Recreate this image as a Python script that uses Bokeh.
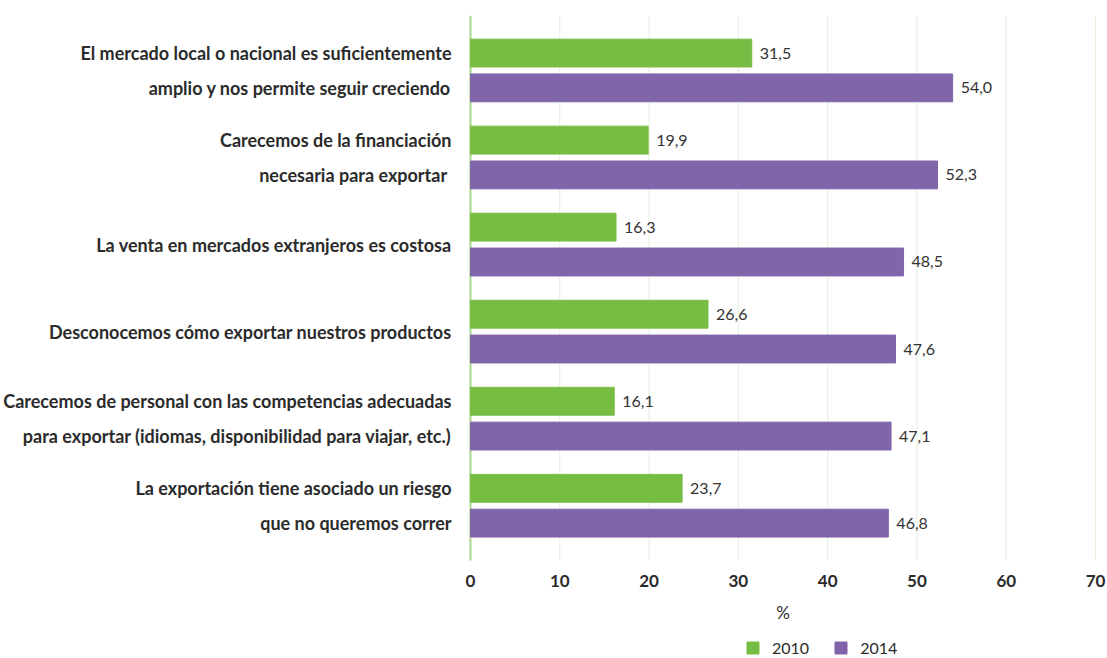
from bokeh.plotting import figure
from bokeh.models import Range1d, FixedTicker, Legend, LegendItem, ColumnDataSource
from bokeh.core.properties import value
from bokeh.embed import file_html
from bokeh.resources import INLINE

categories = [
    "El mercado local o nacional es suficientemente\namplio y nos permite seguir creciendo",
    "Carecemos de la financiación\nnecesaria para exportar ",
    "La venta en mercados extranjeros es costosa",
    "Desconocemos cómo exportar nuestros productos",
    "Carecemos de personal con las competencias adecuadas\npara exportar (idiomas, disponibilidad para viajar, etc.)",
    "La exportación tiene asociado un riesgo\nque no queremos correr",
]
values_2010 = [31.5, 19.9, 16.3, 26.6, 16.1, 23.7]
values_2014 = [54.0, 52.3, 48.5, 47.6, 47.1, 46.8]
series_names = ["2010", "2014"]
x_ticks = [0, 10, 20, 30, 40, 50, 60, 70]
x_title = "%"

GREEN = "#77bd43"
PURPLE = "#8165ab"
FONT = "Lato"
DARK = "#2b2b2b"

# y scale: each category occupies 5 units; 17.42 px per unit
PXU = 17.42
GRID_TOP = -3.157
GRID_BOTTOM = 28.15
Y_BOTTOM = GRID_BOTTOM + 98 / PXU
PXX = 8.96  # px per x unit
X_START = -12 / PXX
X_END = 70 + 12 / PXX

p = figure(width=1107, height=658, x_range=Range1d(X_START, X_END), y_range=Range1d(Y_BOTTOM, GRID_TOP),
           output_backend="svg", toolbar_location=None,
           min_border_left=456, min_border_right=0, min_border_top=15, min_border_bottom=0)
p.outline_line_color = None
p.ygrid.visible = False
p.xgrid.visible = False
p.xaxis.visible = False

# vertical grid lines
p.segment(x0=x_ticks[1:], x1=x_ticks[1:], y0=[GRID_TOP] * 7, y1=[GRID_BOTTOM] * 7,
          line_color="#e4efda", line_width=1)
p.segment(x0=[0], x1=[0], y0=[GRID_TOP], y1=[GRID_BOTTOM], line_color="#a6d68a", line_width=2)

centers = [5 * i for i in range(len(categories))]
src = ColumnDataSource(dict(
    y10=[c - 1 for c in centers], y14=[c + 1 for c in centers],
    v10=values_2010, v14=values_2014,
    t10=[f"{v:.1f}".replace(".", ",") for v in values_2010],
    t14=[f"{v:.1f}".replace(".", ",") for v in values_2014],
))
r10 = p.hbar(y="y10", right="v10", left=0, height=1.6, color=GREEN, source=src)
r14 = p.hbar(y="y14", right="v14", left=0, height=1.6, color=PURPLE, source=src)
p.text(x="v10", y="y10", text="t10", x_offset=8, text_baseline="middle", text_font=value(FONT),
       text_font_size="16px", text_color="#333333", source=src)
p.text(x="v14", y="y14", text="t14", x_offset=8, text_baseline="middle", text_font=value(FONT),
       text_font_size="16px", text_color="#333333", source=src)

# x tick labels and title
p.text(x=x_ticks, y=[GRID_BOTTOM + 20 / PXU] * len(x_ticks), text=[str(t) for t in x_ticks],
       text_align="center", text_baseline="middle", text_font=value(FONT), text_font_style="bold",
       text_font_size="17px", text_color=DARK)
p.text(x=[35], y=[GRID_BOTTOM + 52 / PXU], text=[x_title], text_align="center", text_baseline="middle",
       text_font=value(FONT), text_font_size="17px", text_color=DARK)

# category labels on the y axis, one tick per text line
y_ticks = []
overrides = {}
for c, cat in zip(centers, categories):
    lines = cat.split("\n")
    ys = [c] if len(lines) == 1 else [c - 1, c + 1]
    for ln, yy in zip(lines, ys):
        y_ticks.append(yy)
        overrides[yy] = ln

ay = p.yaxis[0]
ay.ticker = FixedTicker(ticks=y_ticks)
ay.major_label_overrides = overrides
ay.axis_line_color = None
ay.major_tick_line_color = None
ay.minor_tick_line_color = None
ay.major_label_standoff = 1
ay.major_label_text_font = FONT
ay.major_label_text_font_style = "bold"
ay.major_label_text_font_size = "18px"
ay.major_label_text_color = DARK

legend = Legend(items=[LegendItem(label=series_names[0], renderers=[r10]),
                       LegendItem(label=series_names[1], renderers=[r14])],
                orientation="horizontal", location=(287, 1),
                border_line_color=None, background_fill_alpha=0,
                glyph_width=15, glyph_height=15, spacing=24, label_standoff=12,
                label_text_font=FONT, label_text_font_size="16px", label_text_color=DARK,
                padding=0, margin=0)
p.add_layout(legend, "center")

open("out.html", "w").write(file_html(p, INLINE))
